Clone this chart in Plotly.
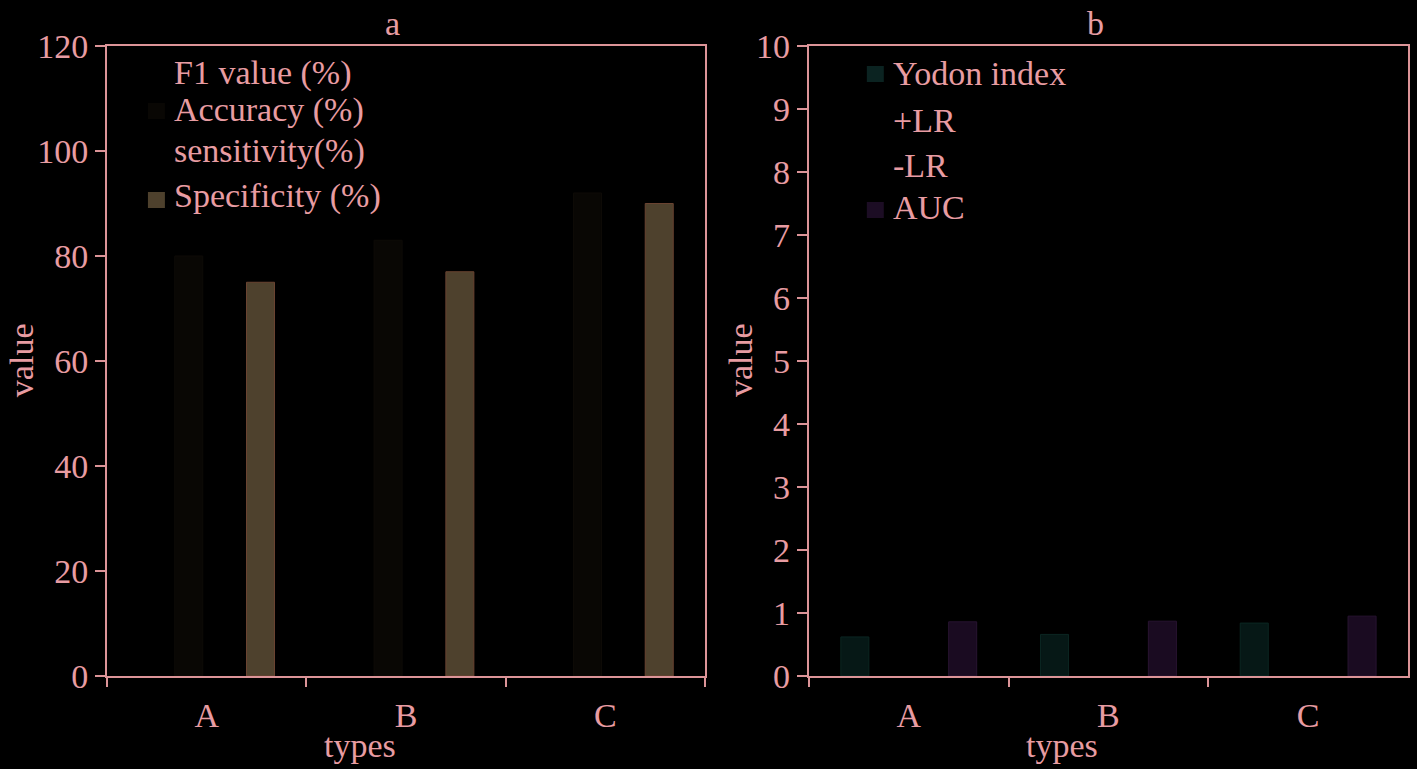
import plotly.graph_objects as go
from plotly.subplots import make_subplots

types = ["A", "B", "C"]

# panel a
names_a = ["F1 value (%)", "Accuracy (%)", "sensitivity(%)", "Specificity (%)"]
f1_value = [0.3, 0.3, 0.3]
accuracy = [80, 83, 92]
sensitivity = [0.3, 0.3, 0.3]
specificity = [75, 77, 90]

# panel b
names_b = ["Yodon index", "+LR", "-LR", "AUC"]
yodon_index = [0.62, 0.66, 0.84]
plus_lr = [0.02, 0.02, 0.02]
minus_lr = [0.02, 0.02, 0.02]
auc = [0.86, 0.87, 0.95]

colors_a = ["#000000", "#090704", "#000000", "#4e412d"]
edges_a = ["#000000", "#0e0b07", "#000000", "#6a4331"]
colors_b = ["#061816", "#000000", "#000000", "#1a0b21"]
edges_b = ["#0b2622", "#000000", "#000000", "#281431"]
swatch_b = ["#0b2321", "#000000", "#000000", "#1c0d24"]

pink = "#e89ca2"
line_pink = "#dc9498"
font = "Liberation Serif"

W, H = 1417, 769
ml, mr, mt, mb = 107, 7, 46, 93
pw = W - ml - mr
ph = H - mt - mb


def px(x):
    return (x - ml) / pw


def py(y):
    return (H - mb - y) / ph


fig = make_subplots(rows=1, cols=2)

for name, vals, c, e in zip(names_a, [f1_value, accuracy, sensitivity, specificity],
                            colors_a, edges_a):
    fig.add_trace(go.Bar(x=types, y=vals, name=name, showlegend=False,
                         marker=dict(color=c, line=dict(color=e, width=1))),
                  row=1, col=1)

for name, vals, c, e in zip(names_b, [yodon_index, plus_lr, minus_lr, auc],
                            colors_b, edges_b):
    fig.add_trace(go.Bar(x=types, y=vals, name=name, showlegend=False,
                         marker=dict(color=c, line=dict(color=e, width=1))),
                  row=1, col=2)

axis_common = dict(showline=True, linecolor=line_pink, linewidth=2, mirror=True,
                   ticks="outside", tickcolor=line_pink, tickwidth=2,
                   showgrid=False, zeroline=False,
                   tickfont=dict(family=font, size=34, color=pink))

fig.update_xaxes(**axis_common, tickson="boundaries", ticklen=9, ticklabelstandoff=8)
fig.update_yaxes(**axis_common, ticklen=10)
fig.update_xaxes(domain=[0, px(706)], row=1, col=1)
fig.update_xaxes(domain=[px(810), 1], row=1, col=2)
fig.update_yaxes(range=[0, 120], dtick=20, row=1, col=1)
fig.update_yaxes(range=[0, 10], dtick=1, row=1, col=2)

txt = dict(family=font, size=34, color=pink)
annotations = []
shapes = []


def label(text, x, y, xanchor="center", angle=0):
    annotations.append(dict(text=text, x=px(x), y=py(y), xref="paper", yref="paper",
                            xanchor=xanchor, yanchor="middle", showarrow=False,
                            textangle=angle, font=txt))


def swatch(x, y, color):
    shapes.append(dict(type="rect", xref="paper", yref="paper",
                       x0=px(x), x1=px(x + 17), y0=py(y - 8), y1=py(y + 8),
                       fillcolor=color, line=dict(width=0)))


label("a", 393, 24)
label("b", 1097, 24)
label("types", 360, 745)
label("types", 1063, 745)
label("value", 21, 360, angle=-90)
label("value", 741, 360, angle=-90)

# hand-placed legends
legend_a_y = [73, 110, 151, 196]
swatch_a_y = [73, 111, 151, 200]
legend_b_y = [74, 120, 165, 208]
swatch_b_y = [74, 120, 165, 210]
for name, y, sy, c in zip(names_a, legend_a_y, swatch_a_y, colors_a):
    label(name, 172, y, xanchor="left")
    swatch(148, sy, c)
for name, y, sy, c in zip(names_b, legend_b_y, swatch_b_y, swatch_b):
    label(name, 892, y, xanchor="left")
    swatch(868, sy, c)

fig.update_layout(
    width=W, height=H,
    margin=dict(l=ml, r=mr, t=mt, b=mb),
    paper_bgcolor="#000000", plot_bgcolor="#000000",
    barmode="group", bargap=0.28, bargroupgap=0.22,
    showlegend=False,
    annotations=annotations,
    shapes=shapes,
)

fig.write_html("out.html", config={"displayModeBar": False},
               post_script="document.body.style.margin='0';document.body.style.overflow='hidden';")
